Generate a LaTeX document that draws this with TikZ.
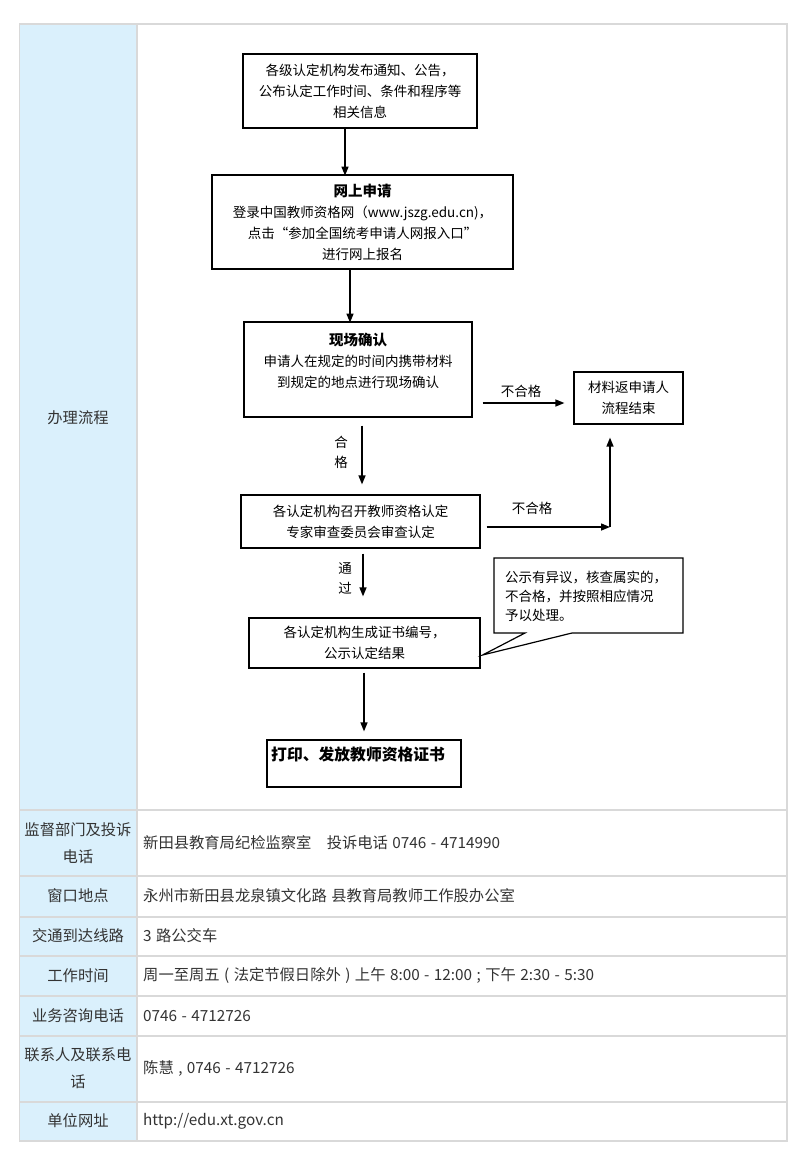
\documentclass[tikz,border=0pt]{standalone}
\usepackage{fontspec}
\setmainfont{Noto Sans CJK SC}
\newfontfamily\tblfam[WordSpace=1.3]{Noto Sans CJK SC}
\usetikzlibrary{arrows.meta,calc}
\definecolor{gridc}{HTML}{D9D9D9}
\definecolor{labelbg}{HTML}{DAF0FC}
\definecolor{txt}{HTML}{333333}
\newcommand\fcfont{\fontsize{13.5}{21}\selectfont}
\newcommand\tbfont{\tblfam\fontsize{15.3}{27}\selectfont}
\begin{document}
\begin{tikzpicture}[x=1pt,y=-1pt,
  box/.style={draw=black,line width=1.2pt,inner sep=0pt,align=center,font=\fcfont},
  ftext/.style={inner sep=0pt,align=center,font=\fcfont},
  arr/.style={line width=1.4pt,-{Triangle[length=9pt,width=7pt]}},
  lab/.style={inner sep=0pt,align=center,font=\tbfont,text=txt},
  val/.style={inner sep=0pt,anchor=west,font=\tbfont,text=txt}]
\useasboundingbox (0,0) rectangle (800,1162);
% ---------- table ----------
\fill[white] (0,0) rectangle (800,1162);
\fill[labelbg] (19.5,24) rectangle (137,1141);
\draw[gridc,line width=1.5pt] (19.5,24) rectangle (787,1141);
\draw[gridc,line width=1.5pt] (137,24) -- (137,1141);
\foreach \yy in {810,876,917,956,996,1036,1102}
  \draw[gridc,line width=1.5pt] (19.5,\yy) -- (787,\yy);
\node[lab] (l1) at (78,418) {办理流程};
\node[lab] (l2) at (78,843.5) {监督部门及投诉\\电话};
\node[val] (v2) at (143,843) {新田县教育局纪检监察室\hspace{1em}投诉电话 0746 - 4714990};
\node[lab] (l3) at (78,896) {窗口地点};
\node[val] (v3) at (143,896) {永州市新田县龙泉镇文化路 县教育局教师工作股办公室};
\node[lab] (l4) at (78,936) {交通到达线路};
\node[val] (v4) at (143,936) {3 路公交车};
\node[lab] (l5) at (78,975.5) {工作时间};
\node[val] (v5) at (143,975.5) {周一至周五 ( 法定节假日除外 ) 上午 8:00 - 12:00 ; 下午 2:30 - 5:30};
\node[lab] (l6) at (78,1016) {业务咨询电话};
\node[val] (v6) at (143,1016) {0746 - 4712726};
\node[lab] (l7) at (78,1068.5) {联系人及联系电\\话};
\node[val] (v7) at (143,1068.5) {陈慧 , 0746 - 4712726};
\node[lab] (l8) at (78,1121) {单位网址};
\node[val] (v8) at (143,1121) {http://edu.xt.gov.cn};
% ---------- flowchart ----------
\node[box,minimum width=234pt,minimum height=74pt] (b1) at (360,91)
  {各级认定机构发布通知、公告，\\公布认定工作时间、条件和程序等\\相关信息};
\node[box,minimum width=301pt,minimum height=94pt] (b2) at (362.5,222)
  {{\fontsize{14.5}{21}\selectfont\bfseries 网上申请}\\登录中国教师资格网（www.jszg.edu.cn)，\\点击“参加全国统考申请人网报入口”\\进行网上报名};
\node[box,minimum width=228pt,minimum height=95pt] (b3) at (358,369.5) {};
\node[ftext] (t3) at (358,361)
  {{\fontsize{14.5}{21}\selectfont\bfseries 现场确认}\\申请人在规定的时间内携带材料\\到规定的地点进行现场确认};
\node[box,minimum width=109pt,minimum height=52pt] (b4) at (628.5,398)
  {材料返申请人\\流程结束};
\node[box,minimum width=239pt,minimum height=53pt] (b5) at (360.5,521.5)
  {各认定机构召开教师资格认定\\专家审查委员会审查认定};
\node[box,minimum width=231pt,minimum height=50pt] (b6) at (364.5,643)
  {各认定机构生成证书编号，\\公示认定结果};
\node[box,minimum width=194pt,minimum height=47pt] (b7) at (364,763.5) {};
\node[inner sep=0pt,anchor=west,font=\fontsize{15.8}{20}\selectfont\bfseries] (t7) at (271,754)
  {打印、发放教师资格证书};
% callout
\draw[line width=1.2pt,fill=white] (494,558) -- (683,558) -- (683,633) -- (572,633)
  -- ($(b6.east)+(2,12)$) -- (525,633) -- (494,633) -- cycle;
\node[ftext,anchor=west,align=left,font=\fontsize{13.5}{19}\selectfont] (co) at (505,596)
  {公示有异议，核查属实的，\\不合格，并按照相应情况\\予以处理。};
% arrows
\draw[arr] ($(b1.south)+(-15,0)$) -- ($(b1.south)+(-15,47)$);
\draw[arr] ($(b2.south)+(-12.5,0)$) -- ($(b2.south)+(-12.5,53)$);
\draw[arr] ($(b3.south)+(4,8)$) -- ($(b5.north)+(1.5,-10)$);
\draw[arr] ($(b5.south)+(2.5,5)$) -- ($(b6.north)+(-1.5,-21)$);
\draw[arr] ($(b6.south)+(-0.5,4)$) -- ($(b7.north)+(0,-8)$);
\draw[arr] ($(b3.east)+(10,33.5)$) -- ($(b4.west)+(-9,5)$);
\coordinate (cn) at (610,527);
\draw[arr] ($(b5.east)+(6,5.5)$) -- (cn);
\draw[arr] (cn) -- ($(b4.south)+(-18.5,13)$);
% labels
\node[ftext] (n1) at (521,391) {不合格};
\node[ftext] (n2) at (532,508) {不合格};
\node[ftext,font=\fontsize{13.5}{20}\selectfont] (n3) at (341,452) {合\\格};
\node[ftext,font=\fontsize{13.5}{20}\selectfont] (n4) at (345,578.5) {通\\过};
\end{tikzpicture}
\end{document}
